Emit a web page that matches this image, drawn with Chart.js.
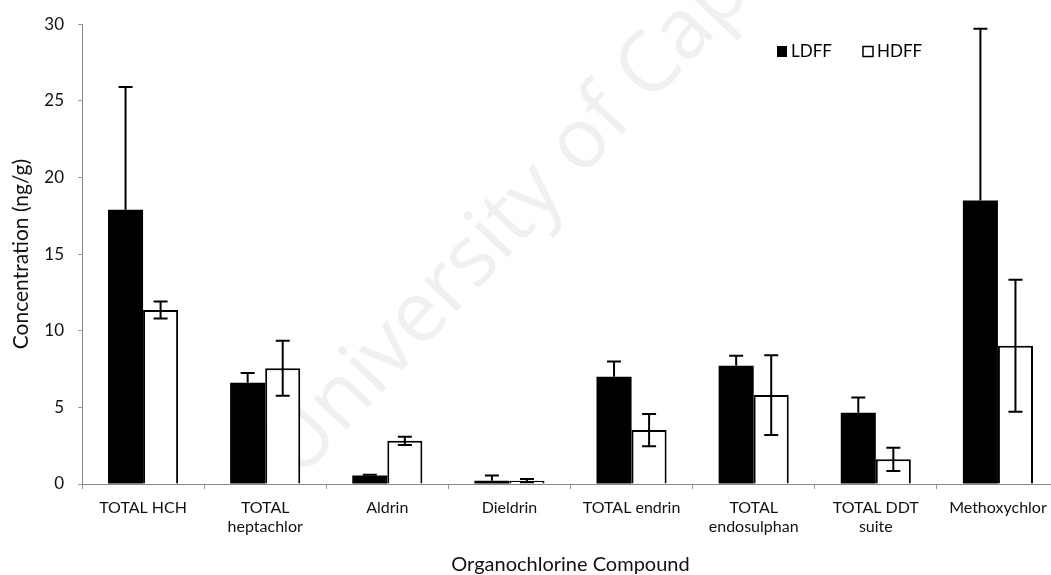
<!DOCTYPE html>
<html>
<head>
<meta charset="utf-8">
<script src="https://cdn.jsdelivr.net/npm/chart.js@4.4.1/dist/chart.umd.min.js"></script>
<style>
  html, body { margin: 0; padding: 0; background: #fff; overflow: hidden; }
  #wrap { width: 1051px; height: 575px; overflow: hidden; }
</style>
</head>
<body>
<div id="wrap"><canvas id="chart" width="1059" height="575"></canvas></div>
<script>
const categories = [["TOTAL HCH"], ["TOTAL", "heptachlor"], ["Aldrin"], ["Dieldrin"], ["TOTAL endrin"], ["TOTAL", "endosulphan"], ["TOTAL DDT", "suite"], ["Methoxychlor"]];
const ldff = [17.9, 6.6, 0.55, 0.22, 7.0, 7.72, 4.65, 18.5];
const ldffErr = [8.0, 0.65, 0.05, 0.33, 1.0, 0.65, 1.0, 11.2];
const hdff = [11.35, 7.55, 2.82, 0.22, 3.52, 5.8, 1.61, 9.02];
const hdffErr = [0.55, 1.8, 0.27, 0.1, 1.05, 2.6, 0.76, 4.3];
const yTicks = [0, 5, 10, 15, 20, 25, 30];

const FONT = "Lato, 'Open Sans', sans-serif";

// error bars: LDFF upward only, HDFF both ways
const errorBars = {
  id: "errorBars",
  afterDatasetsDraw(chart) {
    const ctx = chart.ctx;
    const y = chart.scales.y;
    const sets = [
      { idx: 0, err: ldffErr, vals: ldff, both: false },
      { idx: 1, err: hdffErr, vals: hdff, both: true }
    ];
    ctx.save();
    ctx.strokeStyle = "#000";
    ctx.lineWidth = 2;
    sets.forEach(s => {
      const meta = chart.getDatasetMeta(s.idx);
      meta.data.forEach((bar, i) => {
        const x = bar.x;
        const top = y.getPixelForValue(s.vals[i] + s.err[i]);
        const bot = s.both ? y.getPixelForValue(Math.max(s.vals[i] - s.err[i], 0)) : bar.y;
        ctx.beginPath();
        ctx.moveTo(x, bot);
        ctx.lineTo(x, top);
        ctx.moveTo(x - 7, top);
        ctx.lineTo(x + 7, top);
        if (s.both) {
          ctx.moveTo(x - 7, bot);
          ctx.lineTo(x + 7, bot);
        }
        ctx.stroke();
      });
    });
    ctx.restore();
  }
};

const legendBox = {
  id: "legendBox",
  afterDraw(chart) {
    const ctx = chart.ctx;
    ctx.save();
    ctx.font = "17px " + FONT;
    ctx.textBaseline = "middle";
    ctx.fillStyle = "#000";
    ctx.fillRect(777, 46, 10, 11);
    ctx.fillText("LDFF", 791, 52);
    ctx.strokeStyle = "#000";
    ctx.lineWidth = 1.5;
    ctx.strokeRect(863, 46.5, 10, 10);
    ctx.fillText("HDFF", 877, 52);
    ctx.restore();
  }
};

const watermark = {
  id: "watermark",
  beforeDatasetsDraw(chart) {
    const ctx = chart.ctx;
    ctx.save();
    ctx.translate(300, 480);
    ctx.rotate(-47 * Math.PI / 180);
    ctx.font = "84px 'Open Sans', sans-serif";
    ctx.fillStyle = "#f0f0f0";
    ctx.textBaseline = "alphabetic";
    ctx.fillText("University of Cape", 0, 0);
    ctx.restore();
  }
};

new Chart(document.getElementById("chart"), {
  type: "bar",
  data: {
    labels: categories,
    datasets: [
      {
        label: "LDFF",
        data: ldff,
        backgroundColor: "#000",
        borderColor: "#000",
        borderWidth: 0,
        categoryPercentage: 0.574,
        barPercentage: 1
      },
      {
        label: "HDFF",
        data: hdff,
        backgroundColor: "#fff",
        borderColor: "#000",
        borderWidth: { top: 2, left: 2, right: 2, bottom: 0 },
        categoryPercentage: 0.574,
        barPercentage: 1
      }
    ]
  },
  options: {
    responsive: false,
    animation: false,
    layout: { padding: { top: 24, left: 0, right: 0, bottom: 0 } },
    plugins: {
      legend: { display: false },
      tooltip: { enabled: false }
    },
    scales: {
      x: {
        afterFit(scale) { scale.height = 91; },
        grid: { drawOnChartArea: false, tickLength: 5, color: "#999", offset: true },
        border: { color: "#888", width: 1, dash: [2, 2] },
        ticks: { color: "#111", font: { family: FONT, size: 16 }, padding: 9, maxRotation: 0, autoSkip: false },
        title: { display: true, text: "Organochlorine Compound", color: "#111", font: { family: FONT, size: 20, lineHeight: 1 }, padding: { top: 0, bottom: 0 } }
      },
      y: {
        min: 0,
        max: 30,
        afterFit(scale) { scale.width = 82; },
        afterBuildTicks(scale) { scale.ticks = yTicks.map(v => ({ value: v })); },
        grid: { drawOnChartArea: false, tickLength: 4, color: "#999" },
        border: { color: "#888", width: 1, dash: [2, 2] },
        ticks: { color: "#111", font: { family: FONT, size: 17 }, padding: 14 },
        title: { display: true, text: "Concentration (ng/g)", color: "#111", font: { family: FONT, size: 21 }, padding: { top: 9, bottom: 0 } }
      }
    }
  },
  plugins: [watermark, errorBars, legendBox]
});
</script>
</body>
</html>
